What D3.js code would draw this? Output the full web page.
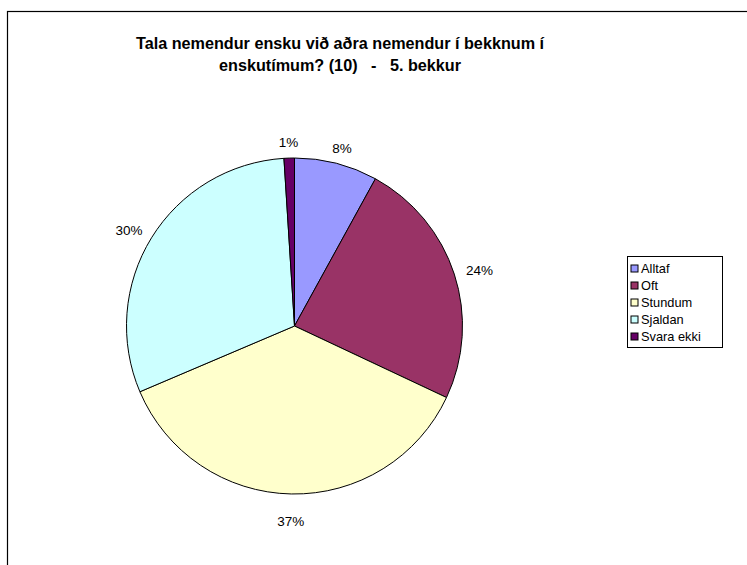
<!DOCTYPE html>
<html>
<head>
<meta charset="utf-8">
<script src="https://cdn.jsdelivr.net/npm/d3@7"></script>
<style>
  body { margin: 0; background: #fff; }
  text { font-family: "Liberation Sans", Arial, sans-serif; fill: #000; }
</style>
</head>
<body>
<div id="chart"></div>
<script>
// Pie chart, Excel style
const WIDTH = 747
const HEIGHT = 565

const categories = ["Alltaf", "Oft", "Stundum", "Sjaldan", "Svara ekki"]
const values = [8.0, 24.0, 36.6, 30.4, 1.0]
const labels = ["8%", "24%", "37%", "30%", "1%"]
const colors = ["#9999FF", "#993366", "#FFFFCC", "#CCFFFF", "#660066"]
const titleLines = ["Tala nemendur ensku við aðra nemendur í bekknum í",
  "enskutímum? (10)   -   5. bekkur"]

const CX = 294.5
const CY = 326
const RADIUS = 168

const svg = d3.select("#chart")
  .append("svg")
    .attr("width", WIDTH)
    .attr("height", HEIGHT)

// chart area border (only top and left show in the picture)
svg.append("rect")
  .attr("x", 7.5)
  .attr("y", 11.5)
  .attr("width", WIDTH + 20)
  .attr("height", HEIGHT + 20)
  .attr("fill", "none")
  .attr("stroke", "#000")
  .attr("stroke-width", 1.2)

// title
svg.append("text")
  .attr("x", 340)
  .attr("y", 49)
  .attr("text-anchor", "middle")
  .style("font-weight", "bold")
  .style("font-size", "16.2px")
  .style("white-space", "pre")
  .selectAll("tspan")
  .data(titleLines)
  .enter()
  .append("tspan")
    .attr("x", 340)
    .attr("dy", (d, i) => i === 0 ? 0 : 22)
    .text(d => d)

const pie = d3.pie().sort(null).value(d => d)
const arcs = pie(values)
const arc = d3.arc().innerRadius(0).outerRadius(RADIUS)

const g = svg.append("g")
  .attr("transform", "translate(" + CX + "," + CY + ")")

g.selectAll("path")
  .data(arcs)
  .enter()
  .append("path")
    .attr("d", arc)
    .attr("fill", (d, i) => colors[i])
    .attr("stroke", "#000")
    .attr("stroke-width", 1)

// labels outside the slices
const LABEL_PAD = 10
g.selectAll(".slice-label")
  .data(arcs)
  .enter()
  .append("text")
    .attr("class", "slice-label")
    .style("font-size", "13.5px")
    .attr("text-anchor", "middle")
    .attr("dominant-baseline", "central")
    .text((d, i) => labels[i])
    .each(function (d) {
      const a = (d.startAngle + d.endAngle) / 2
      const dx = Math.sin(a), dy = -Math.cos(a)
      const bb = this.getBBox()
      const x = dx * (RADIUS + LABEL_PAD) + dx * bb.width / 2 + 3 * dx
      // labels under the pie sit a little further out
      const y = dy * (RADIUS + LABEL_PAD) + dy * bb.height / 2 + (dy > 0.5 ? 10 * dy : 2)
      d3.select(this).attr("x", x).attr("y", y)
    })

// legend
const LEG_X = 627.5, LEG_Y = 256.5, LEG_W = 95, LEG_H = 91
const legend = svg.append("g")
legend.append("rect")
  .attr("x", LEG_X)
  .attr("y", LEG_Y)
  .attr("width", LEG_W)
  .attr("height", LEG_H)
  .attr("fill", "#fff")
  .attr("stroke", "#000")

const items = legend.selectAll(".item")
  .data(categories)
  .enter()
  .append("g")
    .attr("transform", (d, i) => "translate(" + (LEG_X + 3) + "," + (LEG_Y + 12 + i * 17) + ")")

items.append("rect")
  .attr("x", 0.5)
  .attr("y", -3.5)
  .attr("width", 7)
  .attr("height", 7)
  .attr("fill", (d, i) => colors[i])
  .attr("stroke", "#000")

items.append("text")
  .attr("x", 10.5)
  .attr("y", 0)
  .attr("dominant-baseline", "central")
  .style("font-size", "12.8px")
  .text(d => d)
</script>
</body>
</html>
